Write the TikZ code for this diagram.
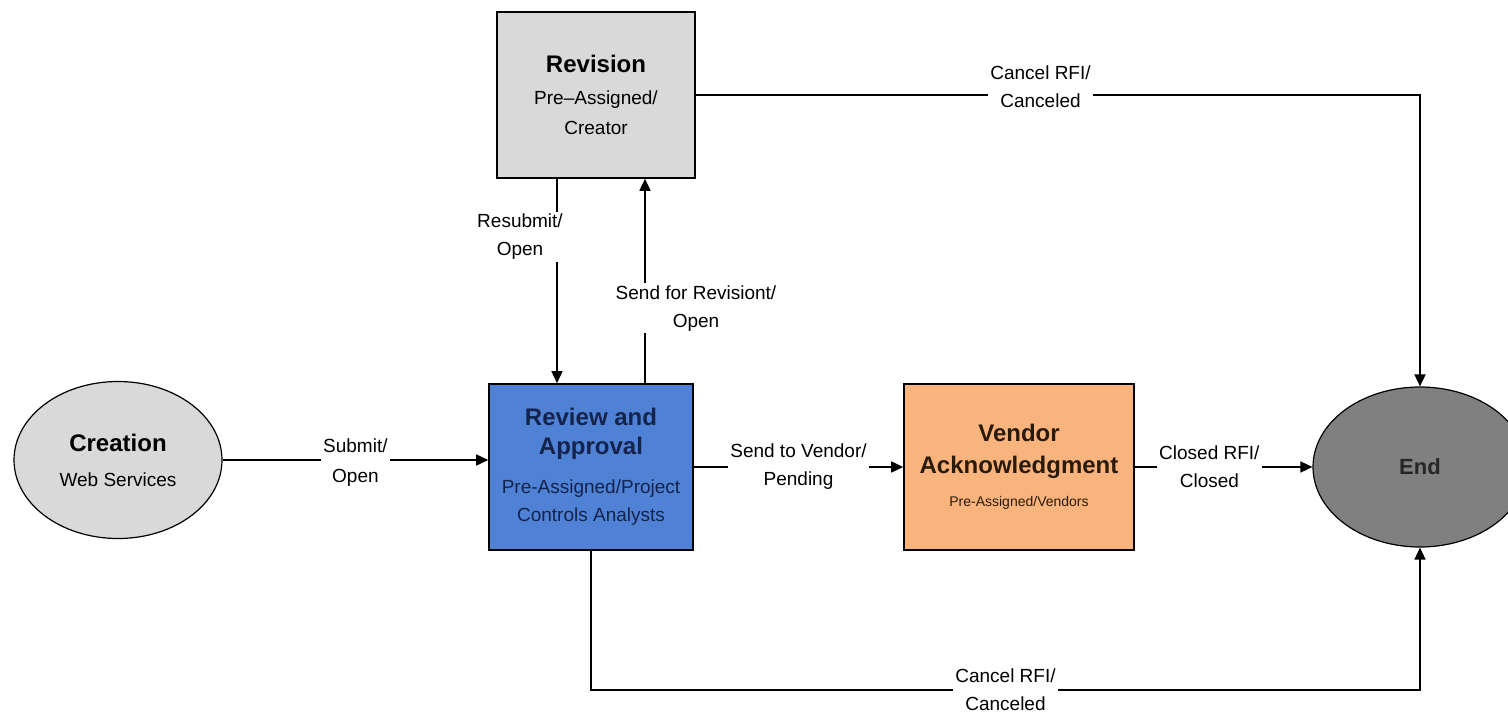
\documentclass[tikz,border=0pt]{standalone}
\usepackage{fontspec}
\setmainfont{Liberation Sans}
\usetikzlibrary{shapes.geometric,arrows.meta}
\definecolor{lgray}{HTML}{D9D9D9}
\definecolor{dgray}{HTML}{808080}
\definecolor{revblue}{HTML}{4F81D5}
\definecolor{navy}{HTML}{14234B}
\definecolor{peach}{HTML}{F9B47E}
\definecolor{brownish}{HTML}{2A1A0A}
\newcommand{\ttlfont}{\fontsize{24}{30}\selectfont\bfseries}
\begin{document}
\begin{tikzpicture}[x=1pt,y=-1pt,
  box/.style={draw=black, line width=1.6pt, rectangle, align=center, inner sep=0pt, font=\fontsize{19}{28}\selectfont},
  oval/.style={draw=black, line width=1.2pt, ellipse, align=center, inner sep=0pt, font=\fontsize{19}{28}\selectfont},
  lbl/.style={fill=white, inner sep=2pt, align=center, font=\fontsize{19}{28}\selectfont},
  arr/.style={line width=1.6pt, -{Triangle[length=12pt,width=11pt]}},
  ln/.style={line width=1.6pt}]
\useasboundingbox (0,0) rectangle (1508,715);

\node[oval, fill=lgray, minimum width=208pt, minimum height=157pt] (creation) at (118,460)
  {{\ttlfont Creation}\\[7pt]Web Services};
\node[box, fill=lgray, minimum width=198pt, minimum height=166pt] (revision) at (596,95)
  {{\ttlfont Revision}\\[4pt]Pre--Assigned/\\[2pt]Creator};
\node[box, fill=revblue, text=navy, minimum width=204pt, minimum height=166pt] (review) at (591,467)
  {{\ttlfont Review and}\\[1pt]{\ttlfont Approval}\\[11pt]Pre-Assigned/Project\\Controls Analysts};
\node[box, fill=peach, text=brownish, minimum width=230pt, minimum height=166pt] (vendor) at (1019,467)
  {{\ttlfont Vendor}\\[4pt]{\ttlfont Acknowledgment}\\[5pt]{\fontsize{14}{18}\selectfont Pre-Assigned/Vendors}};
\node[oval, fill=dgray, text=black!85, minimum width=214pt, minimum height=160pt] (end) at (1420,467)
  {\fontsize{22}{26}\selectfont\bfseries End};

\coordinate (rs) at (557,0);
\coordinate (sr) at (645,0);
\coordinate (bot) at (0,690);

\draw[arr] (creation.east) -- node[lbl, yshift=-3pt]{Submit/\\[2pt]Open} (creation.east -| review.west);
\draw[arr] (review.east) -- node[lbl]{Send to Vendor/\\Pending} (vendor.west);
\draw[arr] (vendor.east) -- node[lbl, pos=0.42]{Closed RFI/\\Closed} (end.west);
\draw[arr] (revision.south -| rs) -- node[lbl, pos=0.285, xshift=-37pt]{Resubmit/\\Open} (review.north -| rs);
\draw[arr] (review.north -| sr) -- node[lbl, pos=0.367, xshift=51pt]{Send for Revisiont/\\Open} (revision.south -| sr);
\draw[arr] (revision.east) -- node[lbl, pos=0.476, yshift=8pt]{Cancel RFI/\\Canceled} (revision.east -| end.north) -- (end.north);
\draw[arr] (review.south) -- (review.south |- bot) -- node[lbl]{Cancel RFI/\\Canceled} (end.south |- bot) -- (end.south);
\end{tikzpicture}
\end{document}
